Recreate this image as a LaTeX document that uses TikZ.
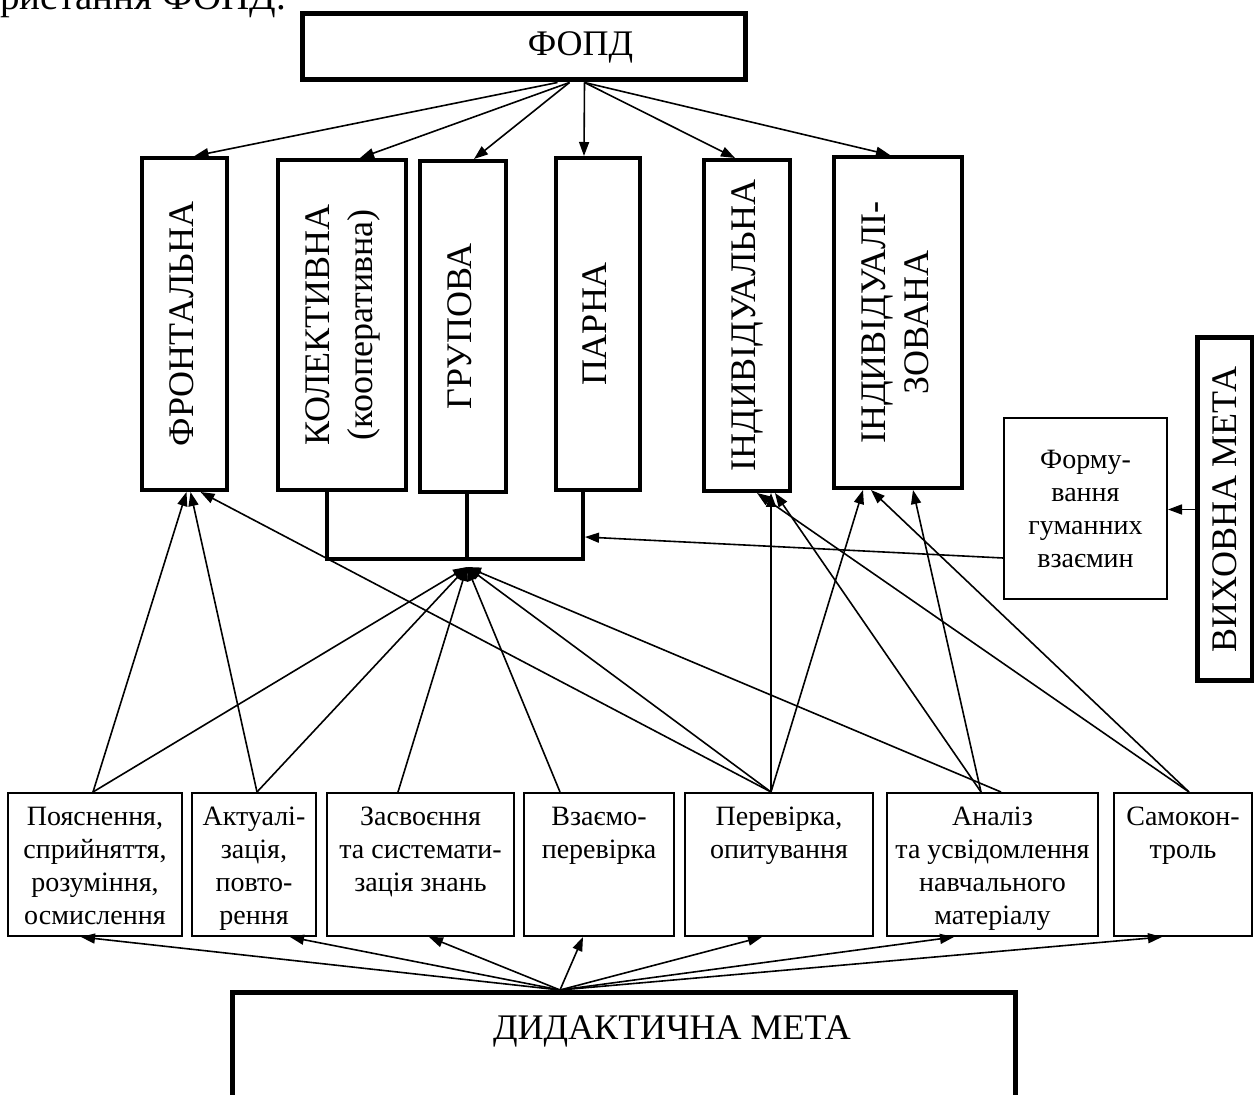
\documentclass[tikz,border=0pt]{standalone}
\usepackage{fontspec}
\setmainfont{Liberation Serif}
\usepackage{graphicx}
\usetikzlibrary{arrows.meta,calc}

\tikzstyle{goalbox}=[draw=black,line width=2.5pt,inner sep=0pt,font=\fontsize{18}{21.6}\selectfont]
\tikzstyle{formbox}=[draw=black,line width=2pt,inner sep=0pt,font=\fontsize{18}{21.6}\selectfont]
\tikzstyle{taskbox}=[draw=black,line width=1pt,inner xsep=0pt,inner ysep=1pt,anchor=north,font=\fontsize{14}{16.5}\selectfont]
\tikzstyle{arr}=[-{Triangle[length=7pt,width=5pt]},line width=0.8pt]
\tikzstyle{bracket}=[line width=2pt]

\newcommand{\upright}[1]{\rotatebox{90}{\begin{tabular}{@{}c@{}}#1\end{tabular}}}
\newcommand{\tasktext}[2]{\parbox[c][69.5pt][t]{#1}{\centering\vspace*{6pt}#2}}

\begin{document}
\begin{tikzpicture}[x=0.5pt,y=-0.5pt]
	\useasboundingbox (0,0) rectangle (1254,1095);
	\node (prev) at (0,10) [anchor=base west,inner sep=0pt,font=\fontsize{19.5}{23}\selectfont] {ристання ФОПД.};
	
	\node (fopd) at (523.5,47) [goalbox,minimum width=221.5pt,minimum height=33pt] {\hspace*{57pt}ФОПД};
	
	% forms of work
	\node (front) at (184.5,324) [formbox,minimum width=42.5pt,minimum height=166pt] {\upright{ФРОНТАЛЬНА}};
	\node (kolek) at (342,325) [formbox,minimum width=64pt,minimum height=165pt] {\upright{КОЛЕКТИВНА\\(кооперативна)}};
	\node (grup) at (463,326.5) [formbox,minimum width=43pt,minimum height=165.5pt] {\upright{ГРУПОВА}};
	\node (parna) at (598,324) [formbox,minimum width=42pt,minimum height=166pt] {\upright{ПАРНА}};
	\node (indyv) at (747,325.5) [formbox,minimum width=43pt,minimum height=165.5pt] {\upright{ІНДИВІДУАЛЬНА}};
	\node (indyz) at (898,322.5) [formbox,minimum width=64pt,minimum height=165.5pt] {\upright{ІНДИВІДУАЛІ-\\ЗОВАНА}};
	
	\node (form) at (1085.5,508.5) [draw=black,line width=1pt,minimum width=81.5pt,minimum height=90.5pt,align=center,font=\fontsize{14}{16.5}\selectfont] {Форму-\\вання\\гуманних\\взаємин};
	\node (vm) at (1224.5,509.5) [goalbox,minimum width=27.5pt,minimum height=171.5pt] {\rotatebox{90}{ВИХОВНА МЕТА}};
	
	% stages of the lesson
	\node (pojasn) at (95,792) [taskbox] {\tasktext{87pt}{Пояснення,\\сприйняття,\\розуміння,\\осмислення}};
	\node (aktual) at (254,792) [taskbox] {\tasktext{62pt}{Актуалі-\\зація,\\повто-\\рення}};
	\node (zasv) at (420.5,792) [taskbox] {\tasktext{93.5pt}{Засвоєння\\та системати-\\зація знань}};
	\node (vzaem) at (599,792) [taskbox] {\tasktext{75pt}{Взаємо-\\перевірка}};
	\node (perev) at (779,792) [taskbox] {\tasktext{94pt}{Перевірка,\\опитування}};
	\node (analiz) at (992.5,792) [taskbox] {\tasktext{105.5pt}{Аналіз\\та усвідомлення\\навчального\\матеріалу}};
	\node (samok) at (1183,792) [taskbox] {\tasktext{69pt}{Самокон-\\троль}};
	
	\node (dm) at (623.5,990) [goalbox,anchor=north] {\parbox[c][75pt][t]{391.5pt}{\centering\vspace*{11.5pt}\hspace*{48.5pt}ДИДАКТИЧНА МЕТА}};
	
	\coordinate (bar) at (467,559);
	\coordinate (hub) at (467,567);
	\coordinate (barin) at (585,537);
	
	\draw[bracket] ($(kolek.south)+(-15,0)$) |- (bar) -| ($(parna.south)+(-15,0)$);
	\draw[bracket] ($(grup.south)+(4,0)$) -- (bar);
	
	\draw[arr] ($(fopd.south)+(34,0)$) -- ($(front.north)+(10,0)$);
	\draw[arr] ($(fopd.south)+(46,0)$) -- ($(kolek.north)+(18,0)$);
	\draw[arr] ($(fopd.south)+(46,0)$) -- ($(grup.north)+(11,0)$);
	\draw[arr] ($(fopd.south)+(61,0)$) -- ($(parna.north)+(-14,0)$);
	\draw[arr] ($(fopd.south)+(61,0)$) -- ($(indyv.north)+(-12,0)$);
	\draw[arr] ($(fopd.south)+(61,0)$) -- ($(indyz.north)+(-8,0)$);
	
	\draw[arr] ($(form.west)+(0,49.5)$) -- (barin);
	\draw[arr] (vm.west) -- (vm.west -| form.east);
	
	\draw[arr] ($(pojasn.north)+(-2,0)$) -- (hub);
	\draw[arr] ($(aktual.north)+(3,0)$) -- (hub);
	\draw[arr] ($(zasv.north)+(-22.5,0)$) -- (hub);
	\draw[arr] ($(vzaem.north)+(-39,0)$) -- (hub);
	\draw[arr] ($(perev.north)+(-8,0)$) -- (hub);
	\draw[arr] ($(analiz.north)+(8.5,0)$) -- (hub);
	
	\draw[arr] ($(pojasn.north)+(-2,0)$) -- ($(front.south)+(2,0)$);
	\draw[arr] ($(aktual.north)+(3,0)$) -- ($(front.south)+(6,0)$);
	\draw[arr] ($(perev.north)+(-8,0)$) -- ($(front.south)+(16,0)$);
	
	\draw[arr] ($(perev.north)+(-8,0)$) -- ($(indyv.south)+(24,0)$);
	\draw[arr] ($(analiz.north)+(-11.5,0)$) -- ($(indyv.south)+(28,0)$);
	\draw[arr] ($(samok.north)+(6,0)$) -- ($(indyv.south)+(10,0)$);
	
	\draw[arr] ($(perev.north)+(-8,0)$) -- ($(indyz.south)+(-35,0)$);
	\draw[arr] ($(analiz.north)+(-11.5,0)$) -- ($(indyz.south)+(15,0)$);
	\draw[arr] ($(samok.north)+(6,0)$) -- ($(indyz.south)+(-27,0)$);
	
	\draw[arr] ($(dm.north)+(-63.5,0)$) -- ($(pojasn.south)+(-14,0)$);
	\draw[arr] ($(dm.north)+(-63.5,0)$) -- ($(aktual.south)+(36,0)$);
	\draw[arr] ($(dm.north)+(-63.5,0)$) -- ($(zasv.south)+(8.5,0)$);
	\draw[arr] ($(dm.north)+(-63.5,0)$) -- ($(vzaem.south)+(-16,0)$);
	\draw[arr] ($(dm.north)+(-63.5,0)$) -- ($(perev.south)+(-17,0)$);
	\draw[arr] ($(dm.north)+(-63.5,0)$) -- ($(analiz.south)+(-38.5,0)$);
	\draw[arr] ($(dm.north)+(-63.5,0)$) -- ($(samok.south)+(-21,0)$);
\end{tikzpicture}
\end{document}
